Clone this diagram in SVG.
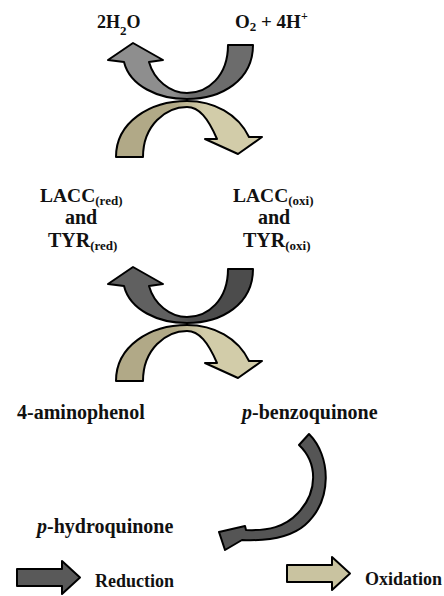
<svg xmlns="http://www.w3.org/2000/svg" width="444" height="596" viewBox="0 0 444 596">
<style>
text{font-family:"Liberation Serif","Times New Roman",serif;font-weight:bold;fill:#111}
.m{font-size:20px}
.s{font-size:13px}
.arr{stroke:#000;stroke-width:2;stroke-linejoin:round}
</style>
<defs>
<linearGradient id="g1" x1="0" y1="0" x2="1" y2="0">
<stop offset="0.45" stop-color="#8e8e8e"/><stop offset="0.58" stop-color="#6c6c6c"/>
</linearGradient>
<linearGradient id="g2" x1="0" y1="0" x2="1" y2="0">
<stop offset="0.45" stop-color="#606060"/><stop offset="0.58" stop-color="#4c4c4c"/>
</linearGradient>
<linearGradient id="t1" x1="0" y1="0" x2="1" y2="0">
<stop offset="0.4" stop-color="#b1a987"/><stop offset="0.6" stop-color="#d2cca9"/>
</linearGradient>
<path id="up" d="M253,45 C253,80 222,99 187,99 C158,99 130,86 124,62 L108,60 L133,43 L163,60 L149,62 C154,80 170,93 187,93 C208,93 228,76 228,45 Z"/>
<path id="down" d="M116,157 C116,122 150,101 187,101 C214,101 238,114 249,137 L262,137 L238,154 L205,139 L217,139 C208,118 199,107 187,107 C166,107 143,125 143,157 Z"/>
</defs>
<g id="connectors">
<use href="#up" class="arr" fill="url(#g1)"/>
<use href="#down" class="arr" fill="url(#t1)"/>
<use href="#up" class="arr" fill="url(#g2)" transform="translate(0,224)"/>
<use href="#down" class="arr" fill="url(#t1)" transform="translate(0,224)"/>
<path class="arr" fill="#555" d="M309,434 C331,456 333,500 305,525 C290,538 266,541 242,540 L225,550 L219,532 L245,526 L246,530 C268,531 285,527 298,513 C318,492 318,463 299,445 Z"/>
</g>
<g id="n-h2o"><text x="97" y="28" style="font-size:18px">2H<tspan class="s" dy="7">2</tspan><tspan dy="-7">O</tspan></text></g>
<g id="n-o2"><text x="235" y="28" style="font-size:19px">O<tspan class="s" dy="3">2</tspan><tspan dy="-3"> + 4H</tspan><tspan style="font-size:12px" dy="-8">+</tspan></text></g>
<g id="n-red">
<text x="40" y="202" style="font-size:19.5px">LACC<tspan class="s" dy="3">(red)</tspan></text>
<text x="65" y="224" class="m">and</text>
<text x="48" y="247" class="m">TYR<tspan class="s" dy="3">(red)</tspan></text>
</g>
<g id="n-oxi">
<text x="233" y="202" style="font-size:19.5px">LACC<tspan class="s" dy="3">(oxi)</tspan></text>
<text x="258" y="224" class="m">and</text>
<text x="243" y="247" class="m">TYR<tspan class="s" dy="3">(oxi)</tspan></text>
</g>
<g id="n-aminophenol"><text x="17" y="419" class="m">4-aminophenol</text></g>
<g id="n-benzoquinone"><text x="242" y="419" class="m"><tspan font-style="italic">p</tspan>-benzoquinone</text></g>
<g id="n-hydroquinone"><text x="37" y="533" class="m"><tspan font-style="italic">p</tspan>-hydroquinone</text></g>
<g id="legend-reduction">
<path class="arr" fill="#595959" d="M17,569 H62 V561 L80,577.5 L62,594 V586 H17 Z"/>
<text x="95" y="587" style="font-size:18px">Reduction</text>
</g>
<g id="legend-oxidation">
<path class="arr" fill="#c9c3a0" d="M287,565 H332 V557 L350,573.5 L332,590 V582 H287 Z"/>
<text x="365" y="585" style="font-size:18px">Oxidation</text>
</g>
</svg>
